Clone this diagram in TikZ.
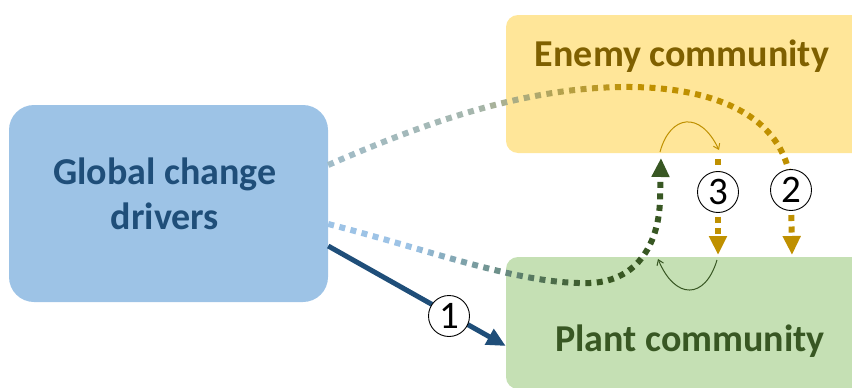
\documentclass[tikz,border=0pt]{standalone}
\usepackage{fontspec}
\setmainfont{Carlito}
\usetikzlibrary{arrows.meta,calc}

\definecolor{drvfill}{HTML}{9DC3E6}
\definecolor{drvtext}{HTML}{1F4E79}
\definecolor{enfill}{HTML}{FFE699}
\definecolor{entext}{HTML}{7F6000}
\definecolor{plfill}{HTML}{C5E0B4}
\definecolor{pltext}{HTML}{385723}
\definecolor{goldline}{HTML}{BF9000}
\definecolor{greenline}{HTML}{385723}
\definecolor{blueline}{HTML}{9DC3E6}

\tikzset{
  panel/.style={rectangle, inner sep=0pt, draw=none},
  title/.style={font=\bfseries\fontsize{38}{45}\selectfont, anchor=base, inner sep=0pt},
  dotline/.style={line width=6pt, dash pattern=on 6pt off 5.5pt, line cap=butt},
  num/.style={circle, draw=black, line width=0.9pt, fill=white, minimum size=41pt,
              inner sep=0pt, font=\fontsize{39}{39}\selectfont},
  fattip/.style={-{Triangle[length=19pt,width=17pt]}},
  thinarc/.style={line width=1pt, -{Straight Barb[length=5pt,width=7pt]}},
}

\begin{document}
\begin{tikzpicture}[x=1pt,y=-1pt]
\useasboundingbox (0,0) rectangle (852,388);

% boxes
\node[panel, fill=drvfill, minimum width=319pt, minimum height=197pt, rounded corners=25pt]
  (drivers) at (168.5,203.5) {};
\node[panel, fill=enfill, minimum width=374pt, minimum height=138pt, rounded corners=12pt]
  (enemy) at (693,84) {};
\node[panel, fill=plfill, minimum width=374pt, minimum height=132pt, rounded corners=12pt]
  (plant) at (693,323) {};

% labels
\node[title, text=drvtext] (drvA) at (165,184) {Global change};
\node[title, text=drvtext] (drvB) at (165,229) {drivers};
\node[title, text=entext] (enlab) at (682,66) {Enemy community};
\node[title, text=pltext] (pllab) at (690,351) {Plant community};

% end points of the connectors
\coordinate (a2s) at ($(drivers.east)+(0,-38.5)$);
\coordinate (a2e) at (792,255);
\coordinate (a4s) at ($(drivers.east)+(0,20.5)$);
\coordinate (a4e) at (661,158);
\coordinate (a3s) at (718,159);
\coordinate (a3e) at (718,255);
\coordinate (a1s) at ($(drivers.east)+(0,42.5)$);
\coordinate (a1e) at ($(plant.west)+(0,23)$);

\def\pathA{(a2s) .. controls (420,125) and (520,88) .. (623,87)
  .. controls (720,86) and (789,120) .. (791,190) -- (a2e)}
\def\pathB{(a4s) .. controls (430,250) and (520,285) .. (590,283)
  .. controls (640,281) and (659,240) .. (660,200) -- (a4e)}

% colour-graded dotted connectors, drawn strip by strip
\foreach \xa in {320,330,...,860}{
  \pgfmathsetmacro{\fa}{(\xa+5)<480 ? 12+(\xa+5-320)*13/160 : min(100,25+(\xa+5-480)/2)}
  \pgfmathsetmacro{\fb}{max(0,min(100,(\xa+5-410)/1.8))}
  \begin{scope}
    \clip (\xa,-10) rectangle ({\xa+10},400);
    \draw[dotline, fattip, color=goldline!\fa!blueline] \pathA;
    \draw[dotline, fattip, color=greenline!\fb!blueline] \pathB;
  \end{scope}
}

% direct effect
\draw[drvtext, line width=5pt, fattip] (a1s) -- (a1e);

% enemy-to-plant effect
\draw[dotline, fattip, goldline] (a3s) -- (a3e);

% feedback loops inside the communities
\coordinate (la) at (660,152);
\coordinate (lb) at (719,150);
\coordinate (lc) at (717,260);
\coordinate (ld) at (658,259);
\draw[thinarc, goldline] (la) .. controls (670,115) and (700,110) .. (lb);
\draw[thinarc, greenline] (lc) .. controls (705,300) and (675,300) .. (ld);

% numbered markers
\node[num] (n1) at (449,316) {1};
\node[num] (n2) at (791,190) {2};
\node[num] (n3) at (718,192) {3};
\end{tikzpicture}
\end{document}
